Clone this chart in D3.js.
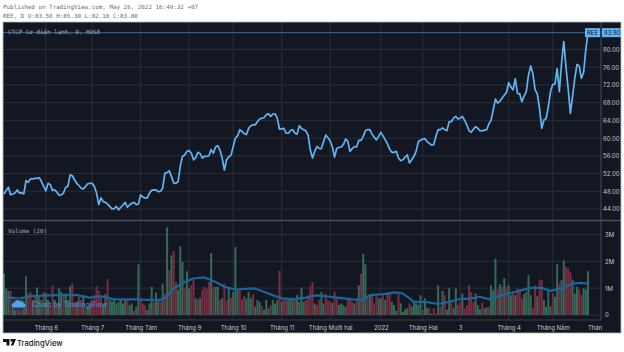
<!DOCTYPE html>
<html>
<head>
<meta charset="utf-8">
<script src="https://cdn.jsdelivr.net/npm/d3@7"></script>
<style>
  html, body { margin: 0; padding: 0; background: #fff; }
  svg { display: block; }
  text { font-family: Inter, Roboto, sans-serif; }
  .mono { font-family: "DejaVu Sans Mono", monospace; }
</style>
</head>
<body>
<svg id="chart" width="624" height="352"></svg>
<script>
// daily closes
const closes = [
  47.4,48.2,48.9,47.2,47.4,47.6,48.3,47.6,47.7,47.4,
  50.4,50.0,50.8,50.8,50.9,50.9,51.1,50.2,49.1,48.1,
  49.8,49.5,48.2,48.3,47.8,47.1,47.2,47.6,48.9,49.1,
  51.7,51.5,50.6,49.8,49.3,48.7,48.5,49.1,49.7,49.8,
  49.8,49.1,47.6,45.0,46.5,45.7,45.5,45.1,44.6,44.0,
  44.1,44.6,43.8,44.4,44.9,45.5,44.4,44.9,45.3,45.5,
  45.0,45.1,47.2,46.7,46.5,46.5,47.6,48.2,48.3,48.3,
  47.9,48.0,48.7,52.1,52.2,52.6,51.3,49.9,49.8,50.2,
  53.7,55.9,56.2,57.0,57.2,56.6,55.1,55.6,56.8,56.5,
  55.5,55.9,55.9,56.0,57.4,56.6,58.0,58.3,57.3,55.5,
  52.8,55.1,55.8,56.1,58.1,60.0,60.5,61.9,61.5,61.0,
  60.8,62.2,62.8,63.0,63.0,63.7,64.3,64.5,64.6,65.3,
  65.5,64.9,65.4,65.5,64.5,62.0,62.1,62.2,61.1,61.1,
  61.7,61.9,61.1,60.9,62.8,62.2,61.9,61.6,60.6,57.3,
  55.5,57.0,58.1,57.7,57.6,59.2,60.7,60.1,59.4,58.0,
  55.7,57.7,57.9,58.0,58.5,59.8,59.3,57.0,57.6,58.1,
  58.0,59.5,59.5,60.4,61.7,61.9,61.9,60.9,60.2,59.6,
  60.4,61.3,60.5,59.6,58.7,57.5,56.8,56.8,57.0,55.5,
  54.9,55.1,55.7,56.2,54.4,55.1,55.9,57.0,59.2,59.5,
  59.8,59.9,59.2,58.8,58.4,58.5,60.4,61.9,61.9,62.3,
  61.9,61.7,63.7,63.7,64.5,64.9,64.3,64.5,64.9,64.0,
  63.0,61.7,61.3,62.0,62.6,62.2,61.7,61.6,61.8,61.9,
  63.2,64.0,66.4,68.8,67.9,68.3,69.0,69.7,70.3,72.5,
  71.5,70.9,73.4,70.1,70.0,68.2,69.5,70.5,74.2,76.3,
  74.5,70.9,70.0,66.7,62.2,64.1,64.4,67.1,70.5,72.1,
  72.2,75.7,70.5,76.9,81.8,76.1,71.2,65.6,69.4,73.5,
  76.6,76.3,73.5,74.8,79.9,83.8
];

// volume in millions, same bars as closes
const volumes = [
  1.54,.99,.90,.90,.49,.43,.49,.31,.62,.37,
  1.44,.80,.86,.56,.74,1.02,.68,.56,.86,.83,
  .56,.37,1.11,.56,.43,.99,.86,.74,.80,.56,
  1.07,1.17,.49,.49,.68,.56,.74,.31,.31,.43,
  .56,.74,1.07,.90,.74,.37,.78,1.33,.56,.49,
  .56,.43,.49,.56,.43,.56,.62,.37,.43,.16,
  .31,1.89,.62,.43,.37,.19,.43,1.05,.49,.83,
  .56,.49,1.17,.80,3.27,1.67,2.22,2.38,1.23,.93,
  2.56,1.98,.99,1.63,.99,1.11,1.30,.62,.58,.65,
  .93,1.05,.99,1.23,2.31,1.05,1.05,1.05,.56,.62,
  1.17,.56,.99,.65,.86,2.53,.95,.93,.58,.70,
  .62,.86,.62,.78,.31,.56,.49,.33,.19,.56,
  .25,.37,.56,.43,.56,1.64,.49,.56,.56,.62,
  .56,.62,.56,.74,.49,1.02,.49,.56,.74,1.07,
  1.23,.43,.37,.56,.86,.43,.80,.56,.49,.46,
  .86,.62,.37,.43,.37,.31,.58,.56,.49,.43,
  .62,1.11,1.54,2.28,1.89,.62,.74,.70,.43,.74,
  .62,.62,.74,.56,.80,.86,.49,.37,.16,.80,
  .43,.12,.21,.25,.43,.31,.49,.43,.37,.74,
  .19,.62,.28,.25,.06,.25,.06,1.11,.31,.90,
  .74,.19,1.02,.46,.25,.99,.37,.49,.80,.25,
  .37,1.11,.86,.49,.80,.37,.21,.46,.25,.28,
  .31,1.11,.93,2.10,.95,1.15,1.05,1.36,1.05,1.11,
  .74,.86,.74,.99,.93,.62,.78,.86,1.48,.74,
  .25,1.11,.70,1.32,1.30,.56,.31,.93,.33,.80,
  .68,1.89,1.17,1.30,2.04,1.79,1.73,1.60,1.32,.80,
  1.05,.95,.74,.99,.95,1.63
];

// 1 = green volume bar, 0 = red
const volumeUp = [
  1,1,1,0,1,1,0,1,0,1,
  1,0,0,1,0,1,1,1,0,1,
  1,0,0,1,0,1,1,0,1,1,
  1,0,0,1,0,0,1,0,1,1,
  0,0,0,0,0,1,1,0,1,1,
  1,1,1,1,1,1,0,1,1,0,
  1,1,0,0,0,1,1,1,0,1,
  1,0,1,0,1,0,1,0,0,1,
  1,1,0,1,1,0,0,1,0,1,
  0,0,0,0,1,0,1,1,0,1,
  0,0,1,0,1,1,1,0,0,0,
  1,1,1,0,1,1,1,0,1,1,
  1,0,1,1,1,0,1,0,0,1,
  1,1,0,1,1,1,1,0,0,0,
  0,1,0,0,1,1,0,0,0,1,
  0,0,1,1,1,1,0,0,0,1,
  0,1,0,1,1,0,1,0,0,0,
  1,1,0,1,0,0,1,1,1,0,
  1,1,1,1,0,1,1,1,1,1,
  0,1,1,0,1,0,0,1,0,1,
  0,1,1,0,1,1,0,0,1,0,
  0,0,0,0,1,1,1,0,1,1,
  0,1,1,1,0,1,0,1,0,1,
  1,0,1,0,0,0,1,1,1,1,
  0,0,1,0,0,1,1,1,1,0,
  1,1,0,1,1,0,0,0,1,1,
  1,0,0,1,1,1
];

// Volume MA(20), read at these bars
const maBars = [0,3,7,12,18,25,33,39,44,50,59,65,71,74,77,82,86,91,96,100,105,114,119,126,132,137,141,146,152,158,163,166,172,178,181,184,186,191,197,202,206,212,216,220,226,232,239,244,248,253,258,262,265];
const maValues = [.59,.65,.62,.70,.72,.74,.74,.65,.70,.58,.58,.56,.56,.70,.99,1.23,1.36,1.40,1.23,1.05,.95,.99,.83,.62,.59,.65,.73,.70,.64,.58,.56,.74,.78,.84,.80,.62,.49,.49,.41,.49,.58,.62,.68,.59,.74,.86,1.01,1.01,.90,.99,1.17,1.20,1.17];

const timeBars = [19,40,62,84,104,126,148,171,190,207,229,249,268];
const timeLabels = ['Tháng 6','Tháng 7','Tháng Tám','Tháng 9','Tháng 10','Tháng 11','Tháng Mười hai','2022','Tháng Hai','3','Tháng 4','Tháng Năm','Thán'];
const priceTicks = [44,48,52,56,60,64,68,72,76,80];
const volumeTicks = [0,1,2,3];
const lastPrice = 83.8;

const svg = d3.select('#chart');
const panel = { left: 3, right: 621, top: 22, bottom: 333 };
const axisX = 601, paneSplit = 220.5, timeTop = 320;

const x = d3.scaleLinear().domain([0, closes.length - 1]).range([4, 588]);
const yPrice = d3.scaleLinear().domain([44, 80]).range([209, 49.5]);
const yVol = d3.scaleLinear().domain([0, 3]).range([315, 234.5]);

const gridColor = '#2a2e39';
const labelColor = '#c4c6cc';

svg.append('rect').attr('x', panel.left).attr('y', panel.top)
  .attr('width', panel.right - panel.left).attr('height', panel.bottom - panel.top)
  .attr('fill', '#131722');

// vertical grid
svg.append('g').selectAll('line').data(timeBars.slice(0, -1)).enter().append('line')
  .attr('x1', d => x(d)).attr('x2', d => x(d))
  .attr('y1', panel.top).attr('y2', timeTop)
  .attr('stroke', gridColor).attr('stroke-width', 1);

// horizontal grid, both panes
svg.append('g').selectAll('line').data(priceTicks).enter().append('line')
  .attr('x1', panel.left).attr('x2', axisX)
  .attr('y1', d => yPrice(d)).attr('y2', d => yPrice(d))
  .attr('stroke', gridColor);
svg.append('g').selectAll('line').data(volumeTicks).enter().append('line')
  .attr('x1', panel.left).attr('x2', axisX)
  .attr('y1', d => yVol(d)).attr('y2', d => yVol(d))
  .attr('stroke', gridColor);

// volume bars
svg.append('g').selectAll('rect').data(volumes).enter().append('rect')
  .attr('x', (d, i) => x(i) - 1)
  .attr('width', 2)
  .attr('y', d => yVol(d))
  .attr('height', d => yVol(0) - yVol(d))
  .attr('fill', (d, i) => volumeUp[i] ? '#37695a' : '#7a2c3f');

// volume MA
const maLine = d3.line().x(d => x(d[0])).y(d => yVol(d[1]));
svg.append('path').datum(d3.zip(maBars, maValues))
  .attr('d', maLine).attr('fill', 'none')
  .attr('stroke', '#1a659a').attr('stroke-width', 2.2).attr('stroke-linejoin', 'round');

// watermark
svg.append('circle').attr('cx', 18.5).attr('cy', 304.5).attr('r', 7).attr('fill', '#363a45');
svg.append('path')
  .attr('d', 'M13.5 307.5h10a2 2 0 0 0 .5-4a3 3 0 0 0-4-2.2a3.4 3.4 0 0 0-5.8 1.8a2.2 2.2 0 0 0-.7 4.4z')
  .attr('fill', '#4aa8ee');
svg.append('text').attr('x', 32).attr('y', 307).attr('font-size', 7.2).attr('font-weight', 600)
  .attr('fill', '#3f8fd6').attr('fill-opacity', 0.85).text('Chart by TradingView');

// last price line
svg.append('line').attr('x1', panel.left).attr('x2', panel.right)
  .attr('y1', yPrice(lastPrice)).attr('y2', yPrice(lastPrice))
  .attr('stroke', '#2f6c9e');

// price line
const priceLine = d3.line().x((d, i) => x(i)).y(d => yPrice(d));
svg.append('path').datum(closes)
  .attr('d', priceLine).attr('fill', 'none')
  .attr('stroke', '#62b4f2').attr('stroke-width', 1.7).attr('stroke-linejoin', 'round');

// pane borders
svg.append('line').attr('x1', panel.left).attr('x2', panel.right).attr('y1', paneSplit).attr('y2', paneSplit)
  .attr('stroke', '#4a4e58').attr('stroke-width', 1.5);
svg.append('line').attr('x1', panel.left).attr('x2', axisX).attr('y1', timeTop).attr('y2', timeTop)
  .attr('stroke', '#3a3e49');
svg.append('line').attr('x1', axisX).attr('x2', axisX).attr('y1', panel.top).attr('y2', timeTop)
  .attr('stroke', '#3f434e').attr('stroke-width', 1.2);
svg.append('rect').attr('x', panel.left).attr('y', panel.top)
  .attr('width', panel.right - panel.left).attr('height', panel.bottom - panel.top)
  .attr('fill', 'none').attr('stroke', '#b9bbc0').attr('stroke-width', 0.8);

// axes
const styleAxis = g => {
  g.select('.domain').remove();
  g.selectAll('line').remove();
  g.selectAll('text').attr('fill', labelColor).attr('font-size', 6);
};
svg.append('g').attr('transform', `translate(${axisX - 1},0)`)
  .call(d3.axisRight(yPrice).tickValues(priceTicks).tickSize(0).tickFormat(d3.format('.2f')))
  .call(styleAxis);
svg.append('g').attr('transform', `translate(${axisX + 1},0)`)
  .call(d3.axisRight(yVol).tickValues(volumeTicks).tickSize(0).tickFormat(d => d ? d + 'M' : '0'))
  .call(styleAxis);
svg.append('g').attr('transform', `translate(0,${timeTop + 2.5})`)
  .call(d3.axisBottom(x).tickValues(timeBars).tickSize(0).tickFormat((d, i) => timeLabels[i]))
  .call(styleAxis);

// last price tags
const tagY = yPrice(lastPrice);
svg.append('rect').attr('x', 585).attr('y', tagY - 4.5).attr('width', 15).attr('height', 9).attr('fill', '#64b5f6');
svg.append('rect').attr('x', 602).attr('y', tagY - 4.5).attr('width', 19).attr('height', 9).attr('fill', '#64b5f6');
svg.append('text').attr('x', 592.5).attr('y', tagY + 2).attr('text-anchor', 'middle').attr('font-size', 6)
  .attr('fill', '#131722').text('REE');
svg.append('text').attr('x', 604).attr('y', tagY + 2).attr('font-size', 6)
  .attr('fill', '#131722').text('83.80');

// pane legends
svg.append('text').attr('class', 'mono').attr('x', 8).attr('y', 33.5).attr('font-size', 5.9)
  .attr('fill', '#a6a9b2').text('CTCP Cơ điện lạnh, D, HOSE');
svg.append('text').attr('class', 'mono').attr('x', 8).attr('y', 232.5).attr('font-size', 5.9)
  .attr('fill', '#a6a9b2').text('Volume (20)');

// header
svg.append('text').attr('class', 'mono').attr('x', 3).attr('y', 9).attr('font-size', 5.9)
  .attr('fill', '#6a6d74').text('Published on TradingView.com, May 26, 2022 16:49:32 +07');
svg.append('text').attr('class', 'mono').attr('x', 3).attr('y', 18).attr('font-size', 5.9)
  .attr('fill', '#6a6d74').text('REE, D O:83.50 H:85.30 L:82.10 C:83.80');

// footer logo
svg.append('path')
  .attr('d', 'M3 339h6.5v6.5h-3v-3.6H3zM10.5 339h5.5l-2.6 6.5h-2.6l1.6-4H10.5z')
  .attr('fill', '#131722');
svg.append('text').attr('x', 17).attr('y', 345.5).attr('font-size', 7.6).attr('font-weight', 500)
  .attr('fill', '#131722').text('TradingView');
</script>
</body>
</html>
